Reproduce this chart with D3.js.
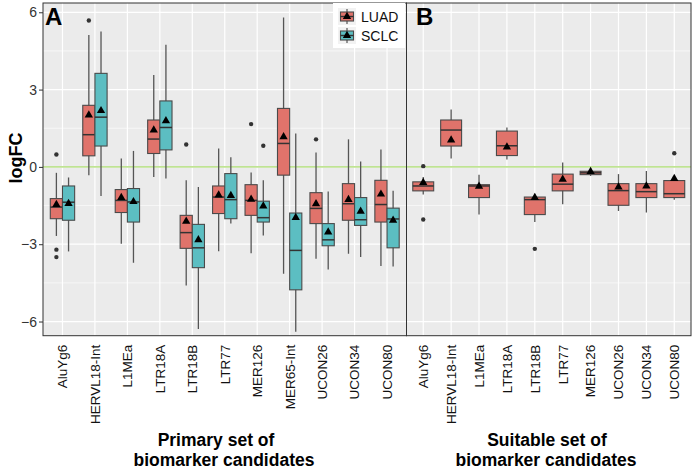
<!DOCTYPE html>
<html><head><meta charset="utf-8">
<script src="https://cdn.jsdelivr.net/npm/d3@7/dist/d3.min.js"></script>
<style>body{margin:0;background:#fff}svg{display:block}text{font-family:"Liberation Sans",Arial,Helvetica,sans-serif}</style>
</head><body>
<script>
// ---------- DATA ----------
const catsA = ["AluYg6","HERVL18-Int","L1MEa","LTR18A","LTR18B","LTR77","MER126","MER65-Int","UCON26","UCON34","UCON80"];
const catsB = ["AluYg6","HERVL18-Int","L1MEa","LTR18A","LTR18B","LTR77","MER126","UCON26","UCON34","UCON80"];
const seriesNames = ["LUAD","SCLC"];
const yTicks = [-6,-3,0,3,6];

// Panel A, LUAD
const luadLo   = [-2.68,-0.32,-2.98,-0.39,-4.60,-3.27,-3.35,-4.15,-3.56,-3.37,-3.85];
const luadQ1   = [-2.01, 0.43,-1.77, 0.52,-3.16,-1.81,-1.88,-0.32,-2.20,-2.07,-2.14];
const luadMed  = [-1.56, 1.25,-1.30, 1.08,-2.55,-1.17,-1.30, 0.91,-1.61,-1.43,-1.46];
const luadQ3   = [-1.23, 2.39,-0.88, 1.82,-1.88,-0.74,-0.69, 2.27,-1.00,-0.65,-0.52];
const luadHi   = [-0.23, 5.12, 0.33, 3.57,-0.52, 0.71,-0.22, 5.80, 0.56, 1.07, 0.68];
const luadMean = [-1.46, 2.01,-1.19, 1.43,-2.11,-1.09,-1.26, 1.17,-1.43,-1.27,-1.06];
const luadOut  = [[0.48,-3.21,-3.50],[5.68],[],[],[0.87],[],[1.66],[],[1.07],[],[]];

// Panel A, SCLC
const sclcLo   = [-3.28,-1.13,-3.72,-0.45,-6.29,-2.20,-2.66,-6.40,-3.98,-3.50,-3.86];
const sclcQ1   = [-2.07, 0.81,-2.14, 0.66,-3.91,-2.01,-2.14,-4.77,-3.06,-2.27,-3.14];
const sclcMed  = [-1.37, 1.93,-1.36, 1.53,-3.14,-1.27,-1.97,-3.24,-2.83,-2.05,-2.02];
const sclcQ3   = [-0.74, 3.63,-0.84, 2.56,-2.23,-0.26,-1.33,-1.79,-2.20,-1.19,-1.60];
const sclcHi   = [-0.41, 5.25, 0.62, 4.74,-0.78, 0.37,-0.52, 1.30,-0.95, 0.21,-0.93];
const sclcMean = [-1.42, 2.18,-1.35, 1.79,-2.83,-1.11,-1.52,-1.97,-2.53,-1.72,-2.07];
const sclcOut  = [[],[],[],[],[],[],[0.82],[],[],[],[]];

// Panel B, LUAD (suitable set)
const bLo   = [-1.07, 0.33,-1.85, 0.29,-2.14,-1.45,-0.35,-1.71,-1.77,-1.27];
const bQ1   = [-0.93, 0.81,-1.19, 0.44,-1.85,-0.93,-0.30,-1.49,-1.19,-1.19];
const bMed  = [-0.74, 1.43,-0.74, 0.82,-1.27,-0.67,-0.23,-0.92,-0.96,-1.04];
const bQ3   = [-0.58, 1.82,-0.69, 1.39,-1.17,-0.28,-0.17,-0.65,-0.65,-0.53];
const bHi   = [-0.39, 2.23,-0.30, 1.53,-1.04, 0.17,-0.04,-0.28,-0.16,-0.53];
const bMean = [-0.61, 1.04,-0.75, 0.77,-1.19,-0.48,-0.18,-0.78,-0.74,-0.45];
const bOut  = [[0.03,-2.04],[],[],[],[-3.18],[],[],[],[],[0.53]];

// ---------- LAYOUT ----------
const W = 695, H = 470;
const pTop = 3, pBottom = 335.7;
const aX0 = 43, aX1 = 406.5, bX0 = 406.5, bX1 = 691;
const colors = {LUAD:"#E0736B", SCLC:"#5CBEC2"};
const boxStroke = "#4a4a4a";

const svg = d3.select("body").append("svg").attr("width", W).attr("height", H);

const y = d3.scaleLinear().domain([-6.55, 6.36]).range([pBottom, pTop]);
const xA = d3.scalePoint().domain(catsA).range([aX0, aX1]).padding(0.6);
const xB = d3.scalePoint().domain(catsB).range([bX0, bX1]).padding(0.6);
const dodge = d3.scaleBand().domain(seriesNames).range([-0.375, 0.375]);

function drawPanel(x, x0, x1){
  const g = svg.append("g");
  g.append("rect").attr("x", x0).attr("y", pTop).attr("width", x1-x0).attr("height", pBottom-pTop).attr("fill", "#EBEBEB");
  g.selectAll(".minor").data([-4.5,-1.5,1.5,4.5]).join("line")
    .attr("x1", x0).attr("x2", x1).attr("y1", d=>y(d)).attr("y2", d=>y(d))
    .attr("stroke", "#fff").attr("stroke-width", 0.6);
  g.selectAll(".major").data(yTicks).join("line")
    .attr("x1", x0).attr("x2", x1).attr("y1", d=>y(d)).attr("y2", d=>y(d))
    .attr("stroke", "#fff").attr("stroke-width", 1.2);
  g.selectAll(".vgrid").data(x.domain()).join("line")
    .attr("x1", d=>x(d)).attr("x2", d=>x(d)).attr("y1", pTop).attr("y2", pBottom)
    .attr("stroke", "#fff").attr("stroke-width", 1.2);
  g.append("line").attr("x1", x0).attr("x2", x1).attr("y1", y(0)).attr("y2", y(0))
    .attr("stroke", "#BFE393").attr("stroke-width", 1.6);
  return g;
}

function drawBoxes(g, x, cats, offset, width, fill, lo, q1, med, q3, hi, mean, outs){
  const step = x.step();
  const data = cats.map((c,i)=>({c, lo:lo[i], q1:q1[i], med:med[i], q3:q3[i], hi:hi[i], mean:mean[i], out:outs[i]}));
  const cx = d => x(d.c) + offset*step;
  const bw = width*step;
  const gg = g.append("g");
  gg.selectAll(".wh").data(data).join("line")
    .attr("x1", cx).attr("x2", cx).attr("y1", d=>y(d.lo)).attr("y2", d=>y(d.hi))
    .attr("stroke", "#555").attr("stroke-width", 1.3);
  gg.selectAll(".bx").data(data).join("rect")
    .attr("x", d=>cx(d)-bw/2).attr("width", bw)
    .attr("y", d=>y(d.q3)).attr("height", d=>Math.max(1, y(d.q1)-y(d.q3)))
    .attr("fill", fill).attr("stroke", boxStroke).attr("stroke-width", 1.1);
  gg.selectAll(".md").data(data).join("line")
    .attr("x1", d=>cx(d)-bw/2).attr("x2", d=>cx(d)+bw/2).attr("y1", d=>y(d.med)).attr("y2", d=>y(d.med))
    .attr("stroke", "#333").attr("stroke-width", 1.5);
  const outPts = data.flatMap(d=>d.out.map(v=>({x:cx(d), v})));
  gg.selectAll(".out").data(outPts).join("circle")
    .attr("cx", d=>d.x).attr("cy", d=>y(d.v)).attr("r", 2.2).attr("fill", "#333");
  const tri = d3.symbol().type(d3.symbolTriangle).size(30);
  gg.selectAll(".mn").data(data).join("path")
    .attr("d", tri).attr("transform", d=>`translate(${cx(d)},${y(d.mean)})`).attr("fill", "#000");
}

const gA = drawPanel(xA, aX0, aX1);
drawBoxes(gA, xA, catsA, dodge("LUAD")+dodge.bandwidth()/2, 0.375, colors.LUAD, luadLo, luadQ1, luadMed, luadQ3, luadHi, luadMean, luadOut);
drawBoxes(gA, xA, catsA, dodge("SCLC")+dodge.bandwidth()/2, 0.375, colors.SCLC, sclcLo, sclcQ1, sclcMed, sclcQ3, sclcHi, sclcMean, sclcOut);
const gB = drawPanel(xB, bX0, bX1);
drawBoxes(gB, xB, catsB, 0, 0.75, colors.LUAD, bLo, bQ1, bMed, bQ3, bHi, bMean, bOut);

[[aX0,aX1],[bX0,bX1]].forEach(([a,b])=>{
  svg.append("rect").attr("x", a).attr("y", pTop).attr("width", b-a).attr("height", pBottom-pTop)
    .attr("fill", "none").attr("stroke", "#333").attr("stroke-width", 1);
});

const yAxis = d3.axisLeft(y).tickValues(yTicks).tickSize(4).tickPadding(2);
const ya = svg.append("g").attr("transform", `translate(${aX0},0)`).call(yAxis);
ya.select(".domain").remove();
ya.selectAll("line").attr("stroke", "#333");
ya.selectAll("text").attr("font-size", 14).attr("fill", "#333");

function xLabels(x){
  svg.append("g").selectAll("text").data(x.domain()).join("text")
    .attr("transform", d=>`translate(${x(d)},${pBottom+9}) rotate(-90)`)
    .attr("text-anchor", "end").attr("dy", "0.36em")
    .attr("font-size", 13.5).attr("fill", "#111").text(d=>d);
}
xLabels(xA); xLabels(xB);

svg.append("text").attr("x", 45).attr("y", 24.5).attr("font-size", 24).attr("font-weight", "bold").text("A");
svg.append("text").attr("x", 416).attr("y", 24.5).attr("font-size", 24).attr("font-weight", "bold").text("B");

svg.append("text").attr("transform", "translate(22,158) rotate(-90)").attr("text-anchor", "middle")
  .attr("font-size", 18).attr("font-weight", "bold").text("logFC");

const tA = [["Primary set of", 216, 446], ["biomarker candidates", 224, 466]];
const tB = [["Suitable set of", 547, 446], ["biomarker candidates", 546, 466]];
[...tA, ...tB].forEach(([t, cx, by])=>{
  svg.append("text").attr("x", cx).attr("y", by).attr("text-anchor", "middle")
    .attr("font-size", 17.5).attr("font-weight", "bold").text(t);
});

const lg = svg.append("g");
lg.append("rect").attr("x", 333).attr("y", 3).attr("width", 72).attr("height", 45).attr("fill", "#fff");
seriesNames.forEach((s, i)=>{
  const ky = 8 + i*19;
  lg.append("rect").attr("x", 338).attr("y", ky).attr("width", 18).attr("height", 17).attr("fill", "#F2F2F2");
  lg.append("line").attr("x1", 347).attr("x2", 347).attr("y1", ky+1).attr("y2", ky+16).attr("stroke", "#555").attr("stroke-width", 1.2);
  lg.append("rect").attr("x", 340.5).attr("y", ky+4).attr("width", 13).attr("height", 9).attr("fill", colors[s]).attr("stroke", boxStroke).attr("stroke-width", 1.1);
  lg.append("line").attr("x1", 340.5).attr("x2", 353.5).attr("y1", ky+8.5).attr("y2", ky+8.5).attr("stroke", "#333").attr("stroke-width", 1.4);
  lg.append("path").attr("d", d3.symbol().type(d3.symbolTriangle).size(30)).attr("transform", `translate(347,${ky+8.5})`).attr("fill", "#000");
  lg.append("text").attr("x", 361).attr("y", ky+13.5).attr("font-size", 14).attr("fill", "#111").text(s);
});
</script>
</body></html>
